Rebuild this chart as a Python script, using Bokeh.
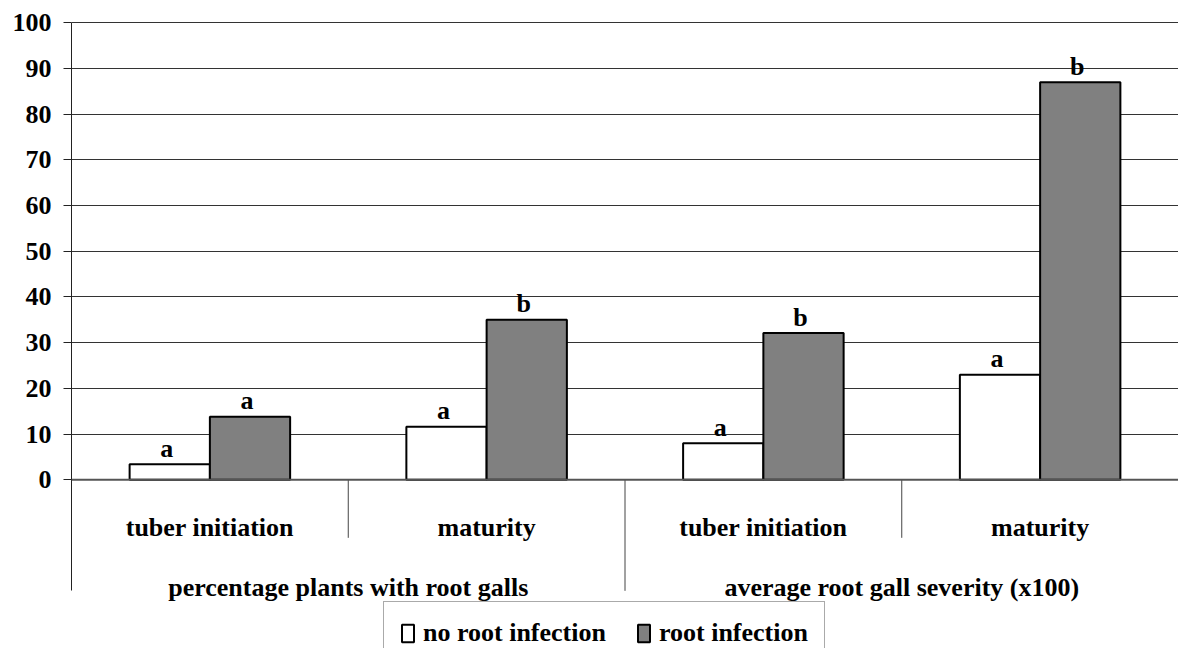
from bokeh.plotting import figure
from bokeh.models import Range1d, FixedTicker, Span, Legend, LegendItem
from bokeh.core.properties import value
from bokeh.embed import file_html
from bokeh.resources import INLINE

categories = ["tuber initiation", "maturity", "tuber initiation", "maturity"]
groups = ["percentage plants with root galls", "average root gall severity (x100)"]
no_infection = [3.4, 11.6, 8.0, 23.0]
infection = [13.8, 35.0, 32.1, 87.0]
no_letters = ["a", "a", "a", "a"]
inf_letters = ["a", "b", "b", "b"]
y_ticks = [0, 10, 20, 30, 40, 50, 60, 70, 80, 90, 100]
series_names = ["no root infection", "root infection"]

FS = "26px"
FAM = "Liberation Serif"

y_top = 100.5
y_bottom = 100.5 - 628 / 4.57

p = figure(width=1178, height=648, output_backend="svg", toolbar_location=None,
           x_range=Range1d(0, 4), y_range=Range1d(y_bottom, y_top),
           x_axis_location=None, min_border_left=71, min_border_right=0,
           min_border_top=20, min_border_bottom=0)
p.outline_line_color = None
p.xgrid.visible = False
p.ygrid.ticker = FixedTicker(ticks=[t for t in y_ticks if t > 0])
p.ygrid.grid_line_color = "#333333"
p.ygrid.grid_line_width = 1

sep_short = -12.7
sep_long = -24.3

ax = p.yaxis[0]
ax.ticker = FixedTicker(ticks=y_ticks)
ax.bounds = (sep_long, 100)
ax.axis_line_color = "#222222"
ax.major_tick_out = 8
ax.major_tick_in = 0
ax.minor_tick_line_color = None
ax.major_tick_line_color = "#222222"
ax.major_label_text_font = FAM
ax.major_label_text_font_style = "bold"
ax.major_label_text_font_size = FS
ax.major_label_text_color = "black"
ax.major_label_standoff = 12

n = len(categories)
centers = [i + 0.5 for i in range(n)]
off = 0.145
bw = 0.29

r1 = p.vbar(x=[c - off for c in centers], top=no_infection, width=bw,
            fill_color="white", line_color="black", line_width=2)
r2 = p.vbar(x=[c + off for c in centers], top=infection, width=bw,
            fill_color="#808080", line_color="black", line_width=2)

p.add_layout(Span(location=0, dimension="width", line_color="#555555", line_width=2))

p.segment(x0=[1, 3, 2], y0=[0, 0, 0], x1=[1, 3, 2], y1=[sep_short, sep_short, sep_long],
          line_color="#444444", line_width=1)

p.text(x=[c - off for c in centers], y=no_infection, text=no_letters,
       text_align="center", text_baseline="alphabetic", y_offset=-16, x_offset=-3,
       text_font=value(FAM), text_font_style="bold", text_font_size=FS,
       text_color="black")
p.text(x=[c + off for c in centers], y=infection, text=inf_letters,
       text_align="center", text_baseline="alphabetic", y_offset=-16, x_offset=-3,
       text_font=value(FAM), text_font_style="bold", text_font_size=FS,
       text_color="black")

p.text(x=centers, y=[-10.5] * n, text=categories, text_align="center",
       text_baseline="alphabetic", text_font=value(FAM),
       text_font_style="bold", text_font_size=FS, text_color="black")
p.text(x=[1, 3], y=[-23.6, -23.6], text=groups, text_align="center",
       text_baseline="alphabetic", text_font=value(FAM),
       text_font_style="bold", text_font_size=FS, text_color="black")

legend = Legend(items=[LegendItem(label=series_names[0], renderers=[r1]),
                       LegendItem(label=series_names[1], renderers=[r2])],
                orientation="horizontal", location=(312, -17), padding=16,
                spacing=30, glyph_width=15, glyph_height=22, label_standoff=8,
                label_text_font=FAM, label_text_font_style="bold",
                label_text_font_size=FS, label_text_color="black",
                border_line_color="#555555", border_line_width=1,
                background_fill_color="white", background_fill_alpha=1, margin=0)
p.add_layout(legend)

open("out.html", "w").write(file_html(p, INLINE))
